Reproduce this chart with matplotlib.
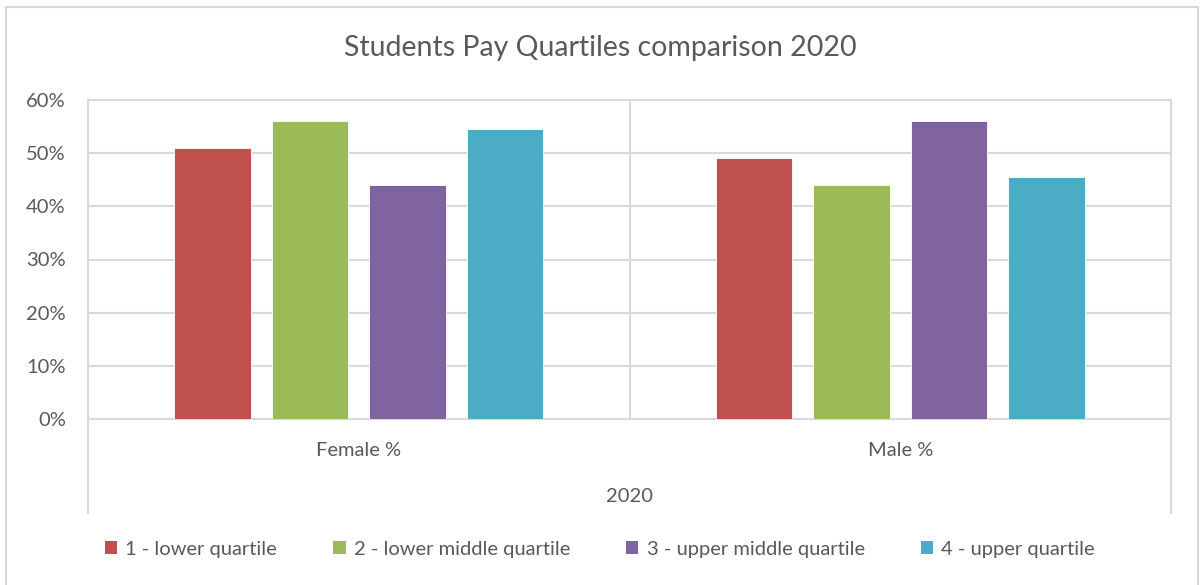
import matplotlib
matplotlib.use("Agg")
import numpy as np
import matplotlib.pyplot as plt
from matplotlib.patches import Rectangle, Patch
from matplotlib.ticker import PercentFormatter

plt.rcParams["font.family"] = ["Lato", "DejaVu Sans"]

categories = ["Female %", "Male %"]
group_label = "2020"
series_names = ["1 - lower quartile", "2 - lower middle quartile",
                "3 - upper middle quartile", "4 - upper quartile"]
female = [0.51, 0.56, 0.44, 0.545]
male = [0.49, 0.44, 0.56, 0.455]
colors = ["#C0504D", "#9BBB59", "#8064A2", "#4BACC6"]
yticks = [0.0, 0.1, 0.2, 0.3, 0.4, 0.5, 0.6]

text_color = "#595959"
grid_color = "#D9D9D9"
fs = 14.5

fig = plt.figure(figsize=(12, 5.85), dpi=100)
ax = fig.add_axes([88 / 1200, 1 - 419 / 585, (1171 - 88) / 1200, (419 - 100) / 585])

# outer chart border
fig.patches.append(Rectangle((6 / 1200, -0.1), (1198 - 6) / 1200, 1.1 - 7 / 585,
                             transform=fig.transFigure, fill=False,
                             edgecolor=grid_color, linewidth=1.5, zorder=0))

x = np.arange(len(categories))
width = 0.142
pitch = 0.18
values = np.array([female, male]).T
for i, (vals, c) in enumerate(zip(values, colors)):
    offs = (i - 1.5) * pitch
    ax.bar(x + offs, vals, width=width, color=c, edgecolor="white",
           linewidth=0.6, zorder=3, label=series_names[i])

ax.set_xlim(-0.5, 1.5)
ax.set_ylim(0, 0.6)
ax.set_yticks(yticks)
ax.yaxis.set_major_formatter(PercentFormatter(1.0, decimals=0))
ax.set_xticks([])
ax.tick_params(axis="y", length=0, pad=16, labelsize=fs, labelcolor=text_color)
for s in ax.spines.values():
    s.set_visible(False)

for y in yticks:
    ax.axhline(y, color=grid_color, linewidth=1.5, zorder=1, clip_on=False)

# category separators, outer ones run down through the multi-level axis
ext = -(513 - 419) / (419 - 100)
for xv in [-0.5, 0.5, 1.5]:
    y0 = ext if xv != 0.5 else 0
    ax.plot([xv, xv], [y0, 1], color=grid_color, linewidth=1.5,
            transform=ax.get_xaxis_transform(), clip_on=False, zorder=1)

for xi, cat in zip(x, categories):
    ax.text(xi, -(451 - 419) / 319, cat, transform=ax.get_xaxis_transform(),
            ha="center", va="center", fontsize=fs, color=text_color)
ax.text(0.5, -(496 - 419) / 319, group_label, transform=ax.get_xaxis_transform(),
        ha="center", va="center", fontsize=fs, color=text_color)

fig.text(0.5, 1 - 48 / 585, "Students Pay Quartiles comparison 2020",
         ha="center", va="center", fontsize=20.5, color=text_color)

handles = [Patch(facecolor=c, edgecolor="none") for c in colors]
fig.legend(handles, series_names, loc="center", ncol=4,
           bbox_to_anchor=(0.5, 1 - 549 / 585), frameon=False,
           fontsize=fs, labelcolor=text_color, handlelength=0.6,
           handleheight=0.6, handletextpad=0.4, columnspacing=2.8)

fig.savefig("out.png", dpi=100, facecolor="white")
